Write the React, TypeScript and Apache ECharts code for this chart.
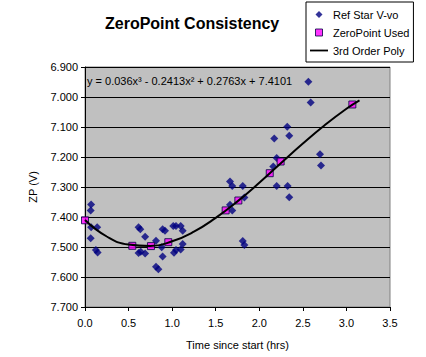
import React, { useEffect, useRef } from "react";
import * as echarts from "echarts";

const FONT = "'Liberation Sans', Arial, sans-serif";

const titleText = "ZeroPoint Consistency";
const xAxisName = "Time since start (hrs)";
const yAxisName = "ZP (V)";
const equationText = "y = 0.036x³ - 0.2413x² + 0.2763x + 7.4101";

const refStarX = [
  0.07, 0.065, 0.07, 0.14, 0.065, 0.125, 0.145,
  0.615, 0.635, 0.69, 0.615, 0.64, 0.69, 0.815, 0.815, 0.842,
  0.891, 0.918, 0.88, 0.891, 1.013, 1.044, 1.021, 1.044,
  1.098, 1.121, 1.121, 1.098,
  1.664, 1.69, 1.81, 1.664, 1.829, 1.69, 1.81, 1.829,
  2.2, 2.325, 2.344, 2.172, 2.321, 2.344, 2.2, 2.16,
  2.563, 2.59, 2.697, 2.708,
];
const refStarY = [
  7.358, 7.378, 7.434, 7.434, 7.471, 7.51, 7.518,
  7.434, 7.441, 7.466, 7.52, 7.516, 7.522, 7.479, 7.566, 7.574,
  7.441, 7.446, 7.501, 7.532, 7.43, 7.43, 7.519, 7.51,
  7.43, 7.446, 7.49, 7.508,
  7.282, 7.297, 7.297, 7.359, 7.335, 7.378, 7.48, 7.493,
  7.297, 7.297, 7.334, 7.138, 7.099, 7.129, 7.203, 7.232,
  6.949, 7.018, 7.191, 7.228,
];

const zpUsedX = [0, 0.543, 0.757, 0.956, 1.614, 1.76, 2.12, 2.245, 3.068];
const zpUsedY = [7.411, 7.496, 7.497, 7.484, 7.378, 7.345, 7.254, 7.215, 7.025];

const polyX = [0, 0.25, 0.5, 0.75, 1.0, 1.25, 1.5, 1.75, 2.0, 2.25, 2.5, 2.75, 3.0, 3.15];
const polyY = [7.41, 7.465, 7.492, 7.497, 7.481, 7.449, 7.403, 7.348, 7.286, 7.22, 7.155, 7.094, 7.039, 7.011];

const xTicks = { min: 0, max: 3.5, interval: 0.5 };
const yTicks = { min: 6.9, max: 7.7, interval: 0.1 };

const zip = (xs: number[], ys: number[]) => xs.map((x, i) => [x, ys[i]]);

export default function App() {
  const ref = useRef<HTMLDivElement>(null);
  useEffect(() => {
    if (!ref.current) return;
    const chart = echarts.init(ref.current, null, { renderer: "svg" });
    const gridLeft = 85;
    const gridTop = 67;
    const gridW = 305;
    const gridH = 240;
    chart.setOption({
      animation: false,
      backgroundColor: "#ffffff",
      textStyle: { fontFamily: FONT },
      title: {
        text: titleText,
        left: 105,
        top: 15,
        padding: 0,
        textStyle: { fontFamily: FONT, fontSize: 16, fontWeight: "bold", color: "#000" },
      },
      legend: {
        orient: "vertical",
        left: 306,
        top: 2,
        padding: [7, 4, 6, 4],
        itemWidth: 18,
        itemHeight: 7,
        itemGap: 7,
        symbolKeepAspect: true,
        borderColor: "#000",
        borderWidth: 1,
        backgroundColor: "#fff",
        textStyle: { fontFamily: FONT, fontSize: 11, color: "#000" },
        data: [
          {
            name: "Ref Star V-vo",
            icon: "path://M5,0L10,5L5,10L0,5Z",
            itemStyle: { color: "#000080", borderWidth: 0 },
          },
          {
            name: "ZeroPoint Used",
            icon: "path://M0,0H10V10H0Z",
            itemStyle: { color: "#FF00FF", borderColor: "#000040", borderWidth: 1 },
          },
          {
            name: "3rd Order Poly",
            icon: "path://M0,0H40V4H0Z",
            itemStyle: { color: "#000", borderWidth: 0 },
          },
        ],
      },
      grid: {
        left: gridLeft,
        top: gridTop,
        width: gridW,
        height: gridH,
        show: true,
        backgroundColor: "#C0C0C0",
        borderColor: "#808080",
        borderWidth: 1,
      },
      xAxis: {
        type: "value",
        min: xTicks.min,
        max: xTicks.max,
        interval: xTicks.interval,
        position: "bottom",
        name: xAxisName,
        nameLocation: "middle",
        nameGap: 32,
        nameTextStyle: { fontFamily: FONT, fontSize: 11, color: "#000" },
        axisLine: { show: true, onZero: false, lineStyle: { color: "#000", width: 1 } },
        axisTick: { show: true, inside: false, length: 4, lineStyle: { color: "#000" } },
        axisLabel: {
          margin: 10,
          fontFamily: FONT,
          fontSize: 11,
          color: "#000",
          formatter: (v: number) => v.toFixed(1),
        },
        splitLine: { show: false },
      },
      yAxis: {
        type: "value",
        inverse: true,
        min: yTicks.min,
        max: yTicks.max,
        interval: yTicks.interval,
        name: yAxisName,
        nameLocation: "middle",
        nameGap: 47,
        nameRotate: 90,
        nameTextStyle: { fontFamily: FONT, fontSize: 11, color: "#000" },
        axisLine: { show: true, lineStyle: { color: "#000", width: 1 } },
        axisTick: { show: true, inside: false, length: 4, lineStyle: { color: "#000" } },
        axisLabel: {
          margin: 7,
          fontFamily: FONT,
          fontSize: 11,
          color: "#000",
          formatter: (v: number) => v.toFixed(3),
        },
        splitLine: { show: true, lineStyle: { color: "#000", width: 1 } },
      },
      graphic: [
        {
          type: "text",
          left: gridLeft + 2,
          top: 75,
          z: 10,
          style: {
            text: equationText,
            fontFamily: FONT,
            fontSize: 11,
            fill: "#000",
          },
        },
      ],
      series: [
        {
          name: "Ref Star V-vo",
          type: "scatter",
          symbol: "diamond",
          symbolSize: 8,
          itemStyle: { color: "#000080" },
          data: zip(refStarX, refStarY),
          z: 2,
        },
        {
          name: "ZeroPoint Used",
          type: "scatter",
          symbol: "rect",
          symbolSize: 7,
          itemStyle: { color: "#FF00FF", borderColor: "#000040", borderWidth: 1 },
          data: zip(zpUsedX, zpUsedY),
          z: 3,
        },
        {
          name: "3rd Order Poly",
          type: "line",
          smooth: true,
          symbol: "none",
          itemStyle: { color: "#000" },
          lineStyle: { color: "#000", width: 2 },
          data: zip(polyX, polyY),
          z: 4,
        },
      ],
    });
    return () => chart.dispose();
  }, []);
  return (
    <div
      ref={ref}
      style={{ position: "fixed", left: 0, top: 0, width: 426, height: 357 }}
    />
  );
}
